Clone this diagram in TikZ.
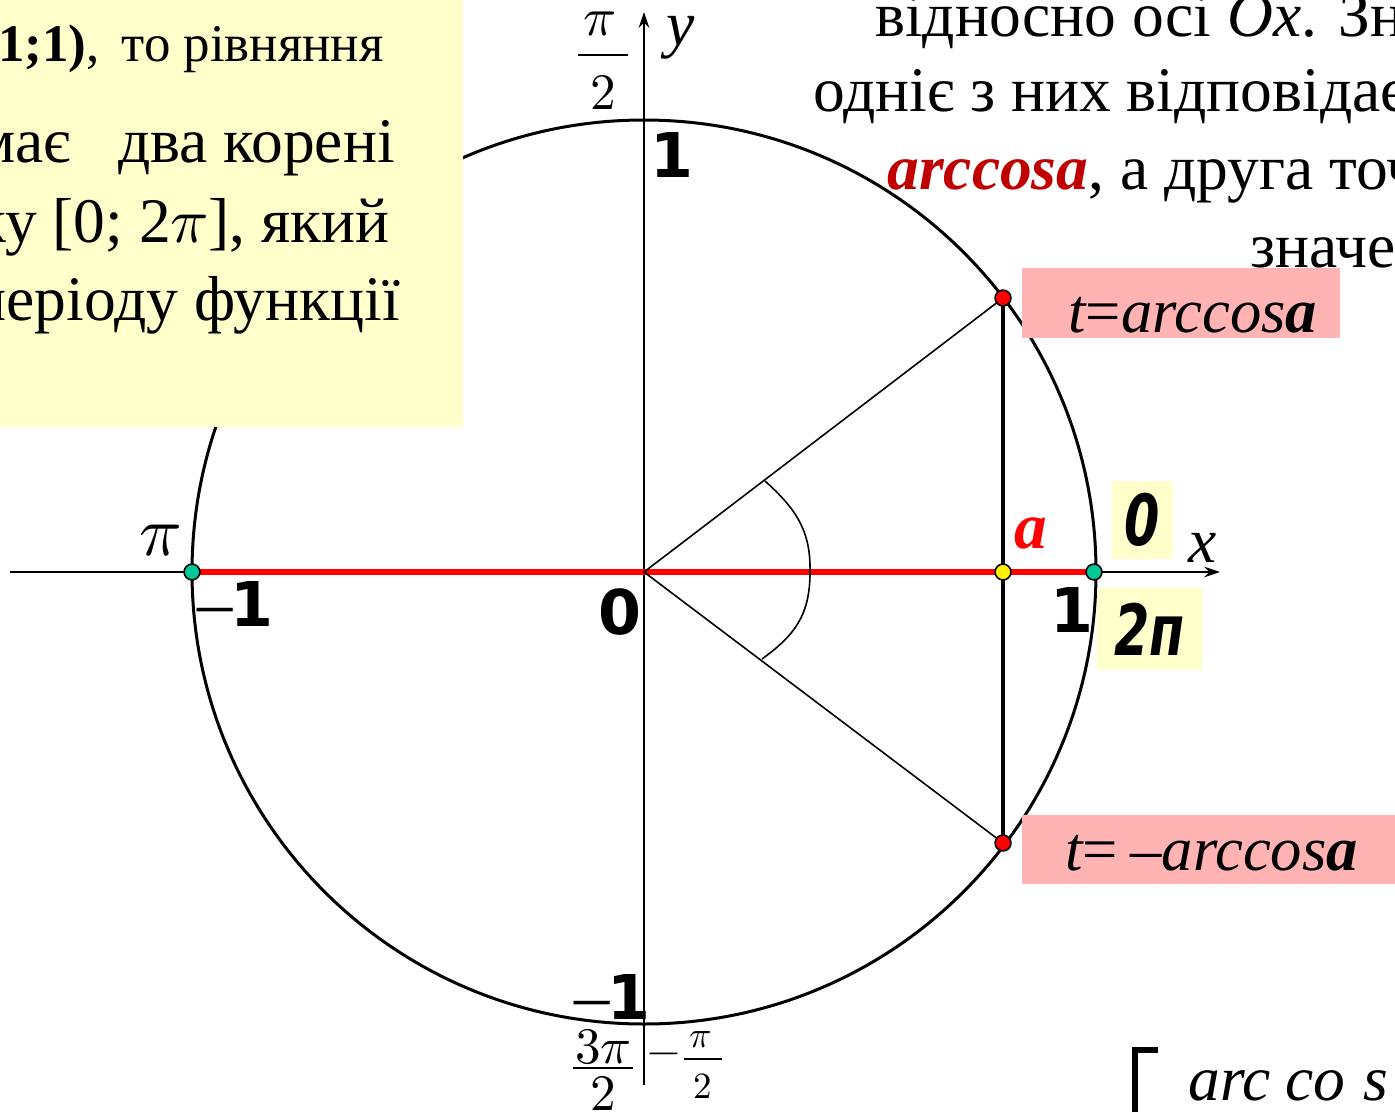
\documentclass[tikz,border=0pt]{standalone}
\usepackage{fontspec}
\usepackage{unicode-math}
\setmathfont{Latin Modern Math}
\setmainfont{Liberation Serif}
\newfontfamily\vfont{DejaVu Sans}
\usetikzlibrary{arrows.meta}
\definecolor{boxyellow}{RGB}{255,255,204}
\definecolor{boxpink}{RGB}{255,179,179}
\definecolor{darkred}{RGB}{192,0,0}
\definecolor{tealpt}{RGB}{0,200,150}
\newcommand{\thindash}{{\rmfamily\mdseries\upshape\fontsize{40}{40}\selectfont –}}
\begin{document}
\begin{tikzpicture}[x=0.5669pt,y=-0.5669pt,
  dot/.style={circle,draw=black,line width=0.9pt,inner sep=0pt,minimum size=9pt},
  bignum/.style={font=\vfont\bfseries\fontsize{35}{40}\selectfont,inner sep=0pt},
  bodytxt/.style={font=\fontsize{36}{42}\selectfont,inner sep=0pt},
  smalltxt/.style={font=\fontsize{30}{36}\selectfont,inner sep=0pt},
  fracpart/.style={font=\fontsize{29}{34}\selectfont,inner sep=0pt},
  fracsmall/.style={font=\fontsize{21}{25}\selectfont,inner sep=0pt},
  fracbar/.style={line width=1.1pt},
  boxtxt/.style={font=\fontsize{35.5}{40}\selectfont,inner sep=0pt},
  ybox/.style={fill=boxyellow,inner sep=0pt,font=\vfont\bfseries\itshape\fontsize{40}{44}\selectfont},
  axis/.style={line width=1.1pt,-{Stealth[length=9pt,width=6pt]}}]
\useasboundingbox (0,0) rectangle (1395,1112);
\clip (0,0) rectangle (1395,1112);
\fill[white] (0,0) rectangle (1395,1112);

% coordinates
\coordinate (O) at (644,572);
\coordinate (xs) at (10,572);
\coordinate (xe) at (1220,572);
\coordinate (ys) at (644,1085);
\coordinate (ye) at (644,12);

% circle and axes
\draw[line width=1.7pt] (O) circle [radius=452];
\draw[axis] (xs) -- (xe);
\draw[axis] (ys) -- (ye);

% left yellow text box (covers the circle)
\fill[boxyellow] (0,0) rectangle (463,427);
\node[smalltxt,anchor=base east] (l1) at (384,62) {\textbf{1;1)},\, то рівняння};
\node[bodytxt,anchor=base east] (l2) at (395,163) {має\hspace{27pt}два корені};
\node[bodytxt,anchor=base east] (l3) at (390,243) {ку [0; 2$\pi$], який};
\node[bodytxt,anchor=base east] (l4) at (400,320) {періоду функції};

% right text
\node[bodytxt,anchor=base west] (r1) at (875,37) {відносно осі \textit{Ox}. Зн};
\node[bodytxt,anchor=base west] (r2) at (813,112) {одніє з них відповідає};
\node[bodytxt,anchor=base west] (r3) at (887,190) {\textcolor{darkred}{\bfseries\itshape arccosa}, а друга точ};
\node[bodytxt,anchor=base west] (r4) at (1250,267) {значе};

% pink boxes
\fill[boxpink] (1022,268) rectangle (1340,338);
\fill[boxpink] (1022,815) rectangle (1400,884);
\node[boxtxt,anchor=base west] (t1) at (1068,332) {\itshape t{\upshape =}arccos\textbf{a}};
\node[boxtxt,anchor=base west] (t2) at (1065,870) {\itshape t{\upshape =}\hspace{0.2em}{\upshape –}arccos\textbf{a}};

% yellow small boxes
\node[ybox,minimum width=34.6pt,minimum height=44.2pt] (z0) at (1142.5,520) {\scalebox{0.72}[1]{0}};
\node[ybox,minimum width=59.5pt,minimum height=46.5pt] (z2) at (1149.5,629) {\scalebox{0.72}[1]{2п}};

% points
\coordinate (Lp) at (192,572);
\coordinate (Rp) at (1094,572);
\coordinate (Pp) at (1003,298);
\coordinate (Qp) at (1003,843);
\coordinate (Ap) at (1003,572);

\draw[red,line width=3.4pt] (Lp) -- (Rp);
\draw[line width=0.9pt] (O) -- (Pp);
\draw[line width=0.9pt] (O) -- (Qp);
\draw[line width=1.9pt] (Pp) -- (Qp);
% angle arc
\coordinate (g1) at (765,481);
\coordinate (g2) at (810,572);
\coordinate (g3) at (762,659);
\draw[line width=0.9pt] (g1) .. controls (795,508) and (811,530) .. (g2) .. controls (810,615) and (795,635) .. (g3);

\node[dot,fill=tealpt] (L) at (Lp) {};
\node[dot,fill=tealpt] (R) at (Rp) {};
\node[dot,fill=red] (P) at (Pp) {};
\node[dot,fill=red] (Q) at (Qp) {};
\node[dot,fill=yellow] (A) at (Ap) {};

% labels
\node[font=\fontsize{40}{44}\selectfont,inner sep=0pt] (pil) at (160,541) {$\pi$};
\node[bignum,anchor=base west] (m1) at (197,626) {\thindash\kern-1pt 1};
\node[bignum] (n0) at (620,612) {0};
\node[bignum] (n1t) at (672,155) {1};
\node[bignum] (n1r) at (1072,610) {1};
\node[bignum,anchor=base west] (m1b) at (574,1019) {\thindash\kern-1pt 1};

% pi/2 at top
\node[fracpart,font=\fontsize{31}{34}\selectfont] (pin) at (600,24) {$\pi$};
\coordinate (b1l) at (578,55);
\coordinate (b1r) at (628,55);
\draw[fracbar] (b1l) -- (b1r);
\node[fracpart] (pid) at (603,92) {$2$};

\node[font=\fontsize{36}{40}\selectfont,inner sep=0pt] (ylab) at (681,38) {\itshape y};
\node[font=\fontsize{36}{40}\selectfont,inner sep=0pt] (xlab) at (1203,548) {\itshape x};
\node[font=\bfseries\itshape\fontsize{37}{40}\selectfont,text=red,inner sep=0pt] (alab) at (1031,533) {a};

% 3pi/2 at bottom
\node[fracpart] (tpn) at (603,1047) {$3\pi$};
\coordinate (b2l) at (573,1068);
\coordinate (b2r) at (633,1068);
\draw[fracbar] (b2l) -- (b2r);
\node[fracpart] (tpd) at (603,1093) {$2$};

% -pi/2 at bottom
\node[fracsmall,font=\fontsize{24}{28}\selectfont] (mns) at (664,1059) {$-$};
\node[fracsmall] (mpn) at (701,1040) {$\pi$};
\coordinate (b3l) at (684,1059);
\coordinate (b3r) at (722,1059);
\draw[line width=0.9pt] (b3l) -- (b3r);
\node[fracsmall] (mpd) at (703,1086) {$2$};

% bottom right fragment
\draw[line width=3pt] (1135,1112) -- (1135,1050) -- (1158,1050);
\node[font=\itshape\fontsize{36}{40}\selectfont,inner sep=0pt,anchor=base west] (arc1) at (1188,1100) {arc};
\node[font=\itshape\fontsize{36}{40}\selectfont,inner sep=0pt,anchor=base west] (arc2) at (1285,1100) {co};
\node[font=\itshape\fontsize{36}{40}\selectfont,inner sep=0pt,anchor=base west] (arc3) at (1363,1100) {s};
\end{tikzpicture}
\end{document}
